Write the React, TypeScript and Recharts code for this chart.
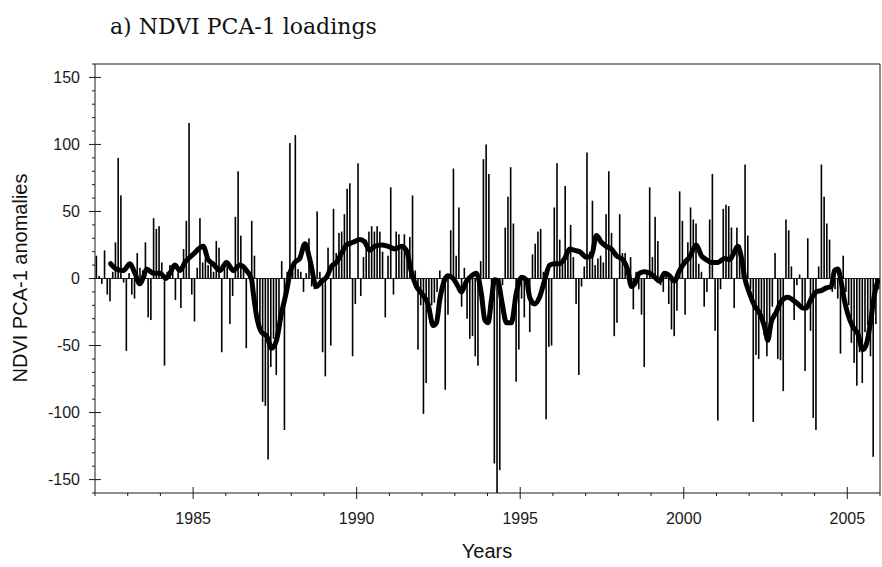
import { Bar, ComposedChart, Line, ReferenceLine, XAxis, YAxis } from "recharts";

// monthly NDVI PCA-1 anomalies, Jan 1982 .. Dec 2005 (one row per year)
const startYear = 1982;
const anomalies = [
  17, 2, -4, 21, -12, -17, 5, 27, 90, 62, -3, -54, // 1982
  4, -12, -15, 19, 8, 6, 27, -29, -31, 45, 37, 39, // 1983
  12, -65, 5, 10, 8, -16, 6, -22, 22, 43, 116, -12, // 1984
  -32, 8, 45, 12, 15, 10, 14, 5, 28, 23, -55, 8, // 1985
  10, -34, -13, 46, 80, 32, 8, -52, 5, 43, 17, -25, // 1986
  -38, -92, -95, -135, -66, -45, -72, -30, 13, -113, 5, 101, // 1987
  7, 107, 7, 5, -10, 4, 30, -6, -8, 50, 5, -55, // 1988
  -73, 23, -50, 52, 19, 34, 35, 48, 67, 71, -58, -19, // 1989
  86, -13, 16, 29, 35, 39, 35, 39, 35, 20, -29, 17, // 1990
  68, -12, 35, 33, 22, 33, 15, 31, 62, 6, -53, -20, // 1991
  -101, -78, -25, -20, -18, -10, 6, -5, -83, -27, 36, 82, // 1992
  17, 53, -21, 8, -30, -45, -43, -58, -65, 13, 89, 100, // 1993
  78, -10, -138, -160, -143, -5, 38, 61, 83, 41, -77, -53, // 1994
  -15, -29, -10, -40, 18, 26, 35, 37, 5, -105, -51, -50, // 1995
  53, 86, 29, 11, 69, 20, 40, 16, -19, -72, -6, 9, // 1996
  94, 20, 58, 10, 15, 17, 12, 48, 80, 34, -43, -33, // 1997
  48, 19, 19, 8, 16, -23, 5, -8, -27, -66, 5, 68, // 1998
  16, 46, 28, -5, -10, 5, -19, -38, -43, -24, 65, 43, // 1999
  -27, 27, 53, 44, 41, 11, 5, -21, -10, 44, 78, -39, // 2000
  -106, -8, 52, 55, 54, 38, -22, 38, 25, 10, 85, 32, // 2001
  -8, -107, -57, -60, -30, -42, -58, -37, -21, 19, -60, -61, // 2002
  -84, 44, 36, 9, -31, -5, 3, -20, -69, 30, -39, -104, // 2003
  -113, 9, 85, 61, 41, 29, -10, -8, -15, -56, 17, -10, // 2004
  -20, -48, -63, -80, -55, -78, -40, -35, -58, -133, -34, -8, // 2005
];

// smoothed curve
const lineYears = [
  1982.48, 1982.66, 1982.87, 1983.07, 1983.22, 1983.37, 1983.48, 1983.58, 1983.78, 1983.99,
  1984.17, 1984.29, 1984.44, 1984.6, 1984.75, 1985.0, 1985.31, 1985.46, 1985.61, 1985.82,
  1986.02, 1986.23, 1986.43, 1986.63, 1986.79, 1986.84, 1986.94, 1987.09, 1987.25, 1987.4,
  1987.55, 1987.7, 1987.86, 1987.96, 1988.11, 1988.26, 1988.42, 1988.57, 1988.77, 1988.93,
  1989.08, 1989.23, 1989.38, 1989.54, 1989.69, 1989.89, 1990.1, 1990.25, 1990.4, 1990.55,
  1990.76, 1990.96, 1991.17, 1991.37, 1991.52, 1991.68, 1991.83, 1991.98, 1992.18, 1992.34,
  1992.44, 1992.54, 1992.69, 1992.79, 1992.95, 1993.1, 1993.2, 1993.36, 1993.51, 1993.66,
  1993.81, 1993.92, 1994.02, 1994.12, 1994.22, 1994.32, 1994.43, 1994.58, 1994.73, 1994.88,
  1995.04, 1995.19, 1995.29, 1995.44, 1995.59, 1995.75, 1995.9, 1996.05, 1996.21, 1996.36,
  1996.51, 1996.67, 1996.82, 1997.02, 1997.18, 1997.33, 1997.48, 1997.63, 1997.79, 1997.94,
  1998.14, 1998.29, 1998.4, 1998.5, 1998.65, 1998.8, 1998.96, 1999.11, 1999.26, 1999.41,
  1999.57, 1999.72, 1999.85, 2000.03, 2000.18, 2000.38, 2000.54, 2000.69, 2000.84, 2001.04,
  2001.25, 2001.4, 2001.55, 2001.65, 2001.76, 2001.86, 2002.01, 2002.16, 2002.32, 2002.47,
  2002.57, 2002.67, 2002.83, 2002.98, 2003.18, 2003.33, 2003.49, 2003.64, 2003.74, 2003.9,
  2004.05, 2004.2, 2004.36, 2004.51, 2004.61, 2004.71, 2004.81, 2004.91, 2005.01, 2005.17,
  2005.32, 2005.47, 2005.57, 2005.72, 2005.83, 2005.93,
];
const lineValues = [
  11, 7, 6, 11, 4, -4, 1, 7, 4, 4,
  0, 4, 10, 6, 12, 18, 24, 14, 11, 6,
  12, 6, 10, 6, -1, -11, -28, -40, -43, -52,
  -46, -26, -9, 4, 12, 15, 26, 14, -6, -2,
  1, 9, 12, 19, 25, 27, 29, 27, 21, 24,
  25, 24, 22, 24, 21, 4, -6, -11, -19, -35,
  -33, -16, -1, 2, 0, -6, -10, -2, 2, 4,
  -11, -31, -33, -16, -1, -2, -16, -33, -33, -11,
  1, -1, -14, -19, -14, -1, 10, 11, 11, 15,
  22, 21, 20, 16, 17, 32, 27, 24, 22, 17,
  14, 6, -6, -4, 4, 5, 4, 1, -2, 4,
  2, -2, 5, 12, 16, 25, 17, 14, 12, 12,
  15, 14, 20, 24, 16, 1, -11, -20, -26, -36,
  -46, -33, -25, -17, -14, -16, -19, -22, -22, -15,
  -10, -9, -7, -6, 6, 7, -2, -16, -26, -36,
  -41, -53, -50, -31, -12, -2,
];

const yTicks = [
  -160, -150, -140, -130, -120, -110, -100, -90, -80, -70, -60, -50, -40, -30, -20, -10, 0,
  10, 20, 30, 40, 50, 60, 70, 80, 90, 100, 110, 120, 130, 140, 150, 160,
];
const xTicks = [
  1982, 1983, 1984, 1985, 1986, 1987, 1988, 1989, 1990, 1991, 1992, 1993, 1994,
  1995, 1996, 1997, 1998, 1999, 2000, 2001, 2002, 2003, 2004, 2005, 2006,
];

const barData = anomalies.map((v, i) => ({ year: startYear + (i + 0.5) / 12, bar: v }));
const lineData = lineYears.map((y, i) => ({ year: y, smooth: lineValues[i] }));
const data = [...barData, ...lineData].sort((a, b) => a.year - b.year);

const INK = "#1a1a1a";
const sans = "'Liberation Sans', Arial, sans-serif";

function YTick(props: any) {
  const { x, y, payload } = props;
  const major = payload.value % 50 === 0;
  return (
    <g>
      <line x1={major ? x - 6 : x - 3} x2={major ? x + 6 : x} y1={y} y2={y} stroke={INK} />
      {major && (
        <text x={x - 15} y={y} textAnchor="end" dominantBaseline="central" fontSize={16} fontFamily={sans} fill={INK}>
          {payload.value}
        </text>
      )}
    </g>
  );
}

function XTick(props: any) {
  const { x, y, payload } = props;
  const major = payload.value % 5 === 0;
  return (
    <g>
      <line x1={x} x2={x} y1={major ? y - 6 : y} y2={major ? y + 6 : y + 3} stroke={INK} />
      {major && (
        <text x={x} y={y + 25} textAnchor="middle" dominantBaseline="central" fontSize={16} fontFamily={sans} fill={INK}>
          {payload.value}
        </text>
      )}
    </g>
  );
}

// thin spike centred on the month, independent of the band size
function Spike(props: any) {
  const { x, y, width, height } = props;
  if (height == null || isNaN(y)) return null;
  const top = Math.min(y, y + height);
  const h = Math.abs(height);
  return <rect x={x + width / 2 - 0.8} y={top} width={1.6} height={h} fill="#000" />;
}

export default function App() {
  return (
    <div style={{ position: "absolute", left: 0, top: 0, width: 882, height: 567, background: "#fff" }}>
      <div
        style={{
          position: "absolute",
          left: 110,
          top: 14,
          fontFamily: "'DejaVu Serif', serif",
          fontSize: 22,
          color: "#111",
          whiteSpace: "nowrap",
        }}
      >
        a) NDVI PCA-1 loadings
      </div>
      <div
        style={{
          position: "absolute",
          left: 20,
          top: 278,
          transform: "translate(-50%, -50%) rotate(-90deg)",
          fontFamily: sans,
          fontSize: 20,
          color: "#111",
          whiteSpace: "nowrap",
        }}
      >
        NDVI PCA-1 anomalies
      </div>
      <div
        style={{
          position: "absolute",
          left: 487,
          top: 551,
          transform: "translate(-50%, -50%)",
          fontFamily: sans,
          fontSize: 20,
          color: "#111",
        }}
      >
        Years
      </div>
      <ComposedChart
        width={882}
        height={567}
        data={data}
        margin={{ top: 64, right: 2, bottom: 14, left: 35 }}
      >
        <XAxis
          dataKey="year"
          type="number"
          domain={[1982, 2006]}
          ticks={xTicks}
          interval={0}
          allowDataOverflow
          height={60}
          tickSize={0}
          tickMargin={0}
          tickLine={false}
          axisLine={{ stroke: INK }}
          tick={<XTick />}
        />
        <YAxis
          type="number"
          domain={[-160, 160]}
          ticks={yTicks}
          interval={0}
          allowDataOverflow
          width={60}
          tickSize={0}
          tickMargin={0}
          tickLine={false}
          axisLine={{ stroke: INK }}
          tick={<YTick />}
        />
        <ReferenceLine y={160} stroke={INK} />
        <ReferenceLine x={2006} stroke={INK} />
        <ReferenceLine y={0} stroke={INK} />
        <Bar dataKey="bar" fill="#000" shape={<Spike />} isAnimationActive={false} />
        <Line
          dataKey="smooth"
          type="monotone"
          stroke="#000"
          strokeWidth={5}
          dot={false}
          connectNulls
          strokeLinejoin="round"
          strokeLinecap="round"
          isAnimationActive={false}
        />
      </ComposedChart>
    </div>
  );
}
